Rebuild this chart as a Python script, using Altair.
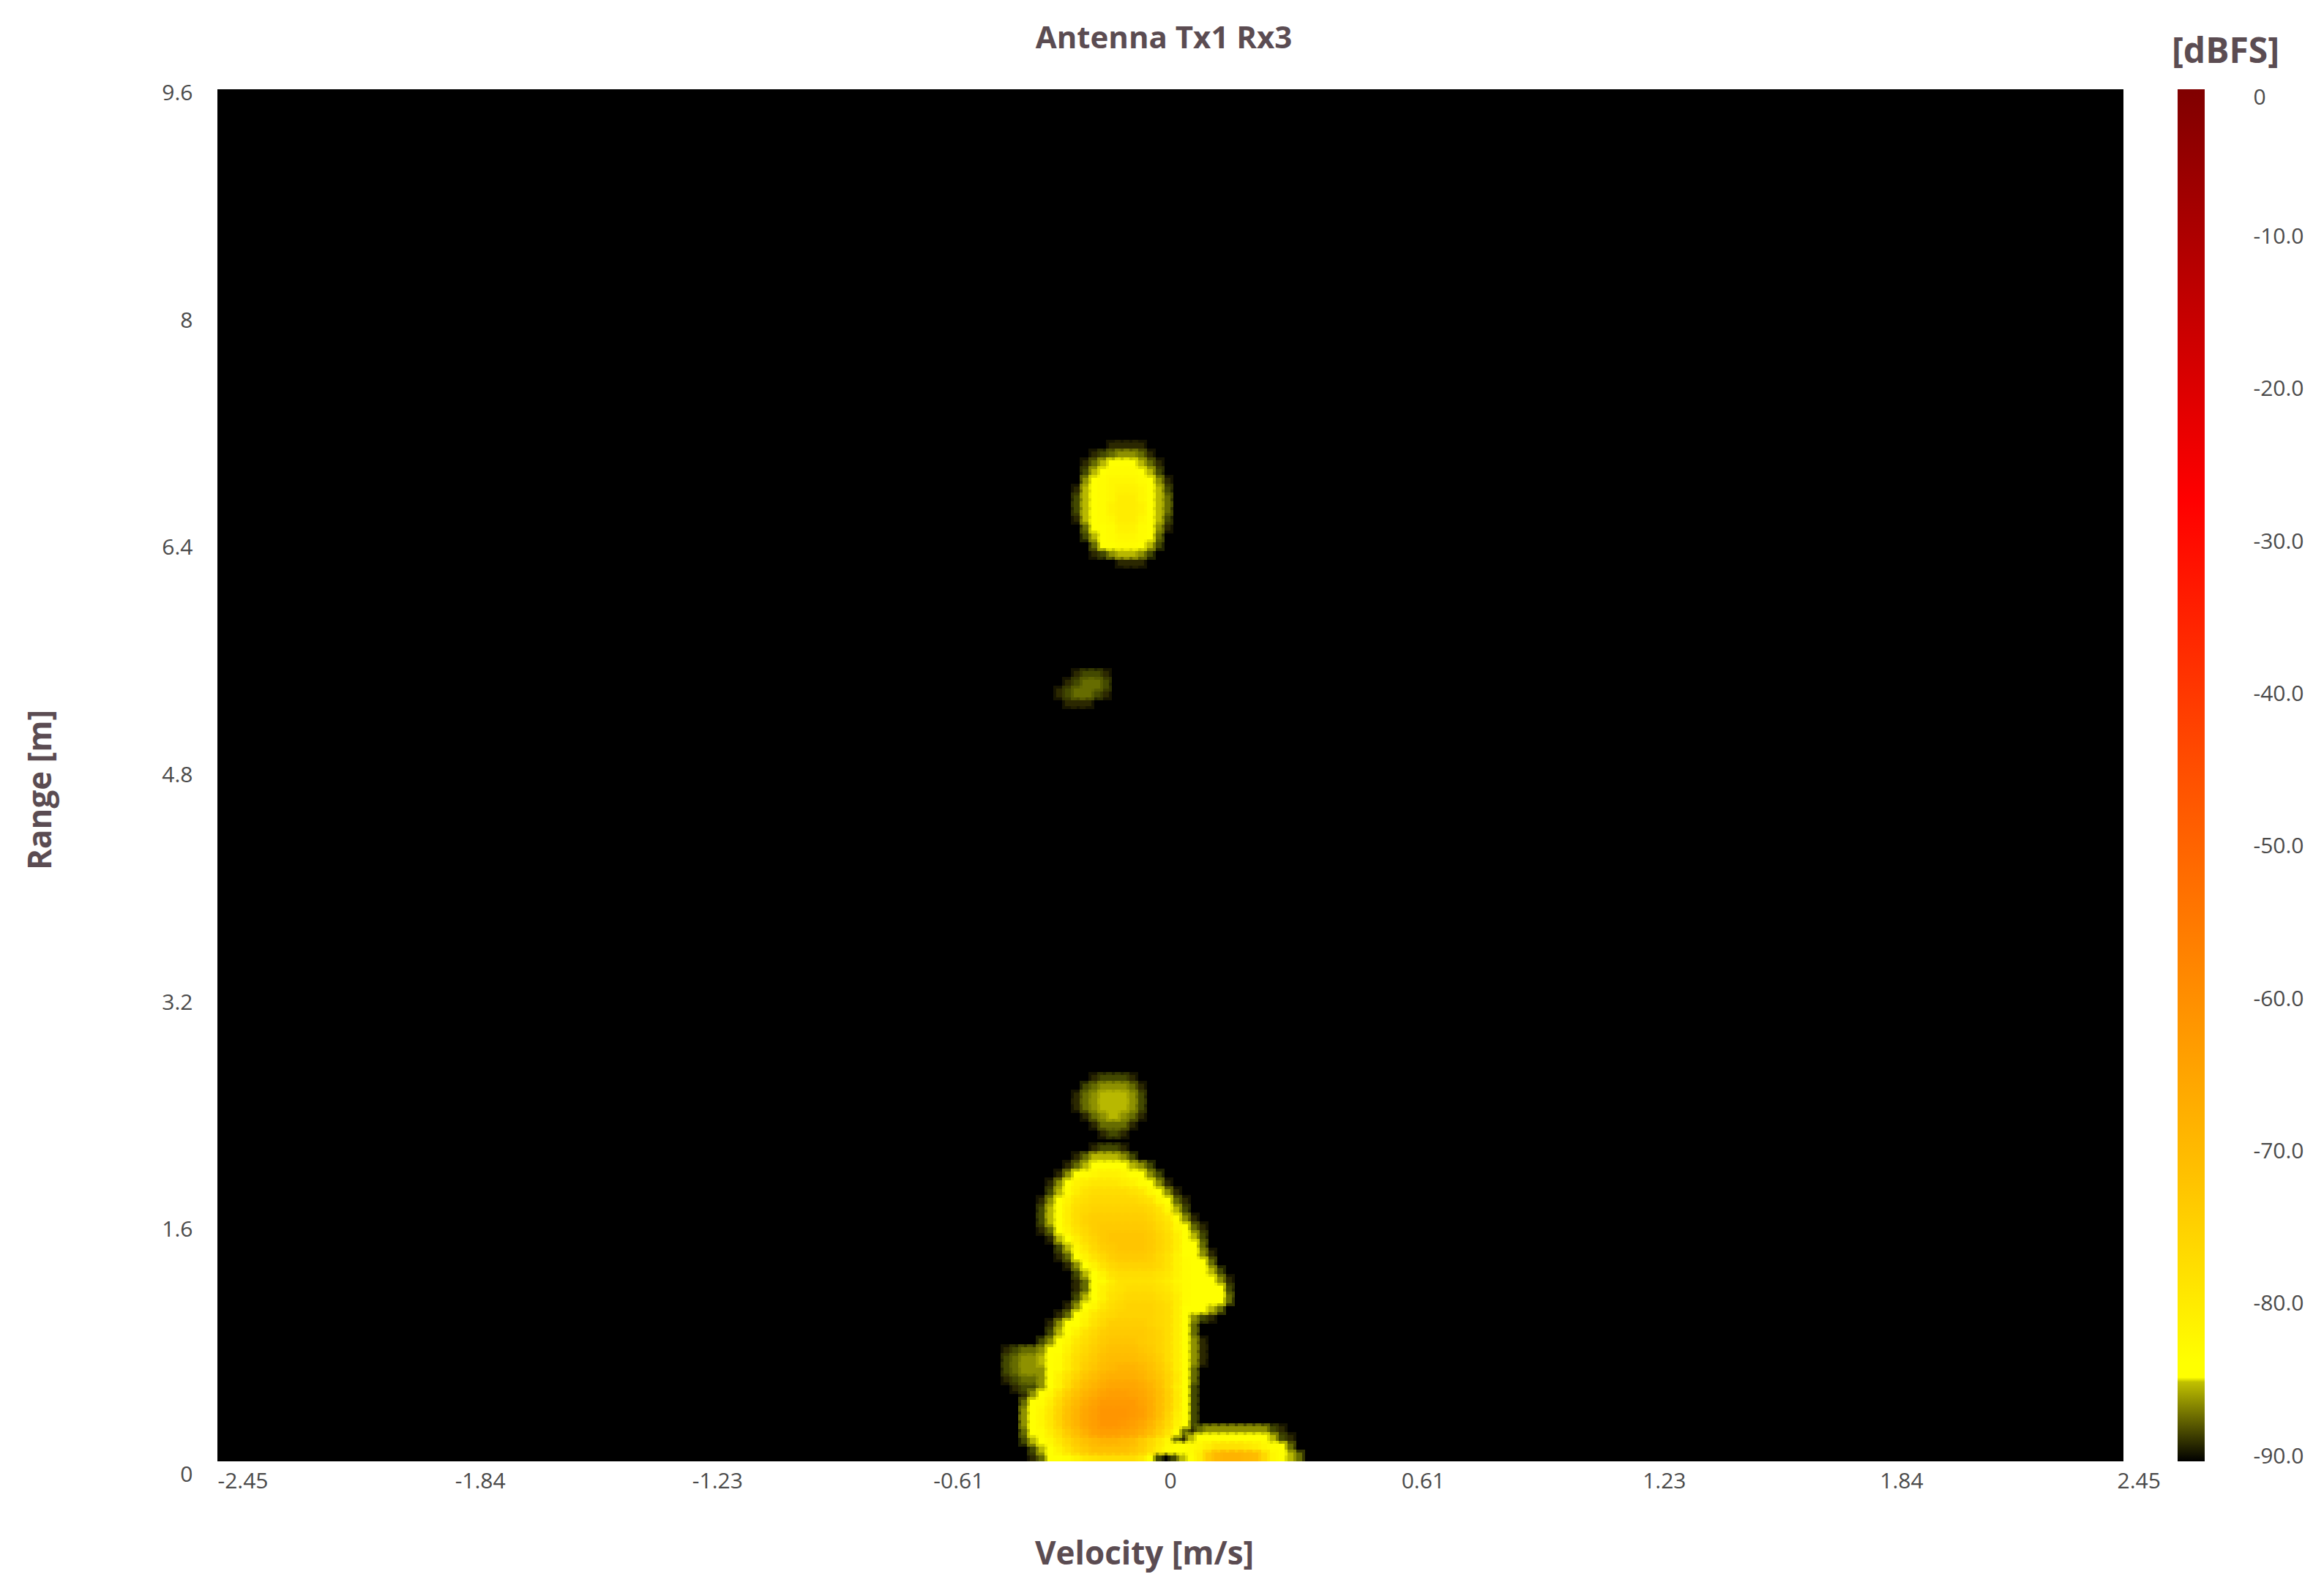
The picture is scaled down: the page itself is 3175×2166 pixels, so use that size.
import altair as alt
import pandas as pd

TITLE = "Antenna Tx1 Rx3"
X_TITLE = "Velocity [m/s]"
Y_TITLE = "Range [m]"
CB_TITLE = "[dBFS]"
X_TICKS = [-2.45, -1.84, -1.23, -0.61, 0, 0.61, 1.23, 1.84, 2.45]
Y_TICKS = [0, 1.6, 3.2, 4.8, 6.4, 8, 9.6]
CB_TICKS = [0, -10, -20, -30, -40, -50, -60, -70, -80, -90]

DB_STOPS = [-90, -84.8, -84.5, -83.5, -77, -71, -59, -45, -27, 0]
COLOR_STOPS = ["#000000", "#c0c000", "#ffff00", "#ffff00", "#ffdd00", "#ffc000",
               "#ff8c00", "#ff5000", "#ff0000", "#800000"]

# In dBFS: range cell -> (first velocity cell, values)
BOTTOM_BLOB = {
    0: (-16, [-89,-87,-84,-84,-83,-81,-79,-78,-77,-77,-77,-77,-79,-84,-88,-90,-88,-85,-84,-80,-73,-69,-68,-68,-69,-70,-76,-82,-84,-85,-87]),
    1: (-16, [-88,-85,-84,-81,-78,-75,-73,-71,-71,-71,-71,-72,-74,-77,-80,-83,-84,-84,-83,-82,-80,-78,-78,-78,-79,-80,-82,-84,-84,-87]),
    2: (-17, [-88,-85,-84,-82,-79,-76,-73,-71,-69,-68,-68,-69,-70,-73,-76,-79,-82,-87,-89,-85,-84,-84,-84,-84,-84,-84,-84,-84,-85,-88,-89]),
    3: (-17, [-87,-84,-83,-80,-77,-73,-70,-67,-64,-63,-63,-64,-65,-67,-70,-74,-78,-83,-87,-89,-87,-86,-86,-86,-86,-86,-86,-86,-88,-89]),
    4: (-17, [-86,-84,-82,-79,-75,-71,-68,-65,-63,-61,-61,-62,-63,-65,-68,-72,-76,-81,-84,-88]),
    5: (-17, [-86,-84,-82,-79,-75,-71,-68,-65,-63,-61,-61,-61,-62,-63,-66,-70,-75,-80,-84,-88]),
    6: (-17, [-87,-84,-83,-80,-76,-72,-69,-66,-64,-62,-62,-62,-62,-64,-66,-70,-74,-79,-84,-88]),
    7: (-17, [-89,-86,-84,-82,-78,-74,-71,-68,-66,-64,-63,-63,-64,-65,-67,-70,-74,-79,-84,-88]),
    8: (-18, [-89,-88,-88,-86,-84,-81,-77,-73,-70,-68,-66,-65,-65,-65,-66,-68,-71,-75,-80,-84,-88]),
    9: (-19, [-89,-88,-87,-87,-86,-84,-81,-78,-75,-72,-70,-68,-67,-67,-67,-68,-70,-72,-75,-79,-84,-87]),
    10: (-19, [-88,-87,-86,-86,-86,-84,-83,-80,-77,-74,-72,-70,-69,-68,-68,-69,-71,-73,-76,-80,-84,-87]),
    11: (-19, [-88,-87,-86,-86,-85,-84,-83,-80,-77,-75,-73,-71,-70,-70,-70,-71,-72,-74,-77,-80,-84,-86,-89]),
    12: (-19, [-89,-88,-87,-87,-86,-84,-84,-81,-78,-76,-74,-72,-71,-71,-71,-72,-73,-75,-77,-80,-84,-86,-89]),
    13: (-15, [-88,-86,-84,-82,-79,-77,-75,-73,-72,-72,-72,-73,-74,-75,-77,-80,-84,-86,-89]),
    14: (-14, [-88,-85,-84,-81,-78,-76,-74,-73,-73,-73,-73,-74,-75,-77,-80,-84,-87]),
    15: (-14, [-89,-86,-84,-84,-81,-78,-76,-74,-74,-74,-74,-75,-76,-77,-80,-84,-87]),
    16: (-13, [-89,-87,-84,-82,-79,-77,-76,-75,-75,-75,-75,-76,-77,-80,-84,-86,-88,-89]),
    17: (-12, [-89,-86,-84,-82,-79,-77,-76,-75,-75,-75,-76,-77,-80,-84,-84,-84,-85,-87]),
    18: (-11, [-88,-85,-84,-81,-78,-77,-76,-76,-76,-77,-78,-80,-83,-84,-84,-84,-84,-87]),
    19: (-11, [-89,-87,-84,-81,-79,-78,-77,-77,-77,-78,-79,-81,-83,-84,-84,-84,-84,-88]),
    20: (-11, [-89,-87,-84,-83,-80,-78,-78,-78,-78,-79,-80,-82,-83,-84,-84,-84,-86,-89]),
    21: (-11, [-88,-85,-84,-81,-78,-77,-77,-77,-77,-78,-79,-81,-83,-84,-84,-85,-88]),
    22: (-12, [-89,-86,-84,-81,-78,-76,-75,-75,-75,-75,-76,-78,-81,-83,-84,-84,-87]),
    23: (-13, [-89,-87,-84,-81,-78,-76,-74,-73,-73,-73,-74,-76,-78,-81,-84,-84,-86,-89]),
    24: (-13, [-88,-85,-82,-79,-76,-74,-73,-72,-72,-72,-73,-75,-77,-80,-84,-84,-87]),
    25: (-14, [-89,-85,-84,-80,-77,-75,-73,-72,-72,-72,-72,-73,-75,-77,-80,-84,-85,-88]),
    26: (-15, [-89,-87,-84,-81,-78,-76,-74,-73,-73,-73,-73,-73,-74,-76,-78,-82,-84,-87,-89]),
    27: (-15, [-88,-85,-84,-80,-77,-75,-74,-74,-74,-74,-74,-74,-75,-77,-79,-83,-86,-89]),
    28: (-15, [-88,-85,-84,-80,-77,-76,-75,-75,-75,-75,-75,-75,-76,-78,-82,-85,-88]),
    29: (-15, [-89,-86,-84,-81,-78,-77,-76,-76,-76,-76,-76,-77,-78,-82,-84,-87,-89]),
    30: (-14, [-88,-85,-83,-80,-78,-77,-77,-77,-77,-78,-79,-82,-84,-86,-89]),
    31: (-14, [-89,-86,-84,-81,-80,-79,-79,-79,-80,-81,-83,-84,-86,-89]),
    32: (-13, [-89,-86,-84,-83,-82,-81,-81,-82,-84,-84,-86,-88]),
    33: (-12, [-89,-87,-85,-84,-84,-84,-84,-85,-86,-88]),
    34: (-11, [-89,-87,-85,-85,-85,-86,-88]),
    35: (-9, [-89,-88,-88,-89]),
}
SMALL_BLOB = {
    37: (-8, [-89,-88,-89]),
    38: (-9, [-89,-87,-87,-87,-89]),
    39: (-10, [-89,-87,-86,-85,-86,-87,-89]),
    40: (-11, [-89,-87,-86,-85,-85,-85,-86,-88]),
    41: (-11, [-89,-87,-86,-85,-85,-85,-86,-88]),
    42: (-10, [-88,-87,-86,-86,-86,-87,-89]),
    43: (-9, [-89,-88,-88,-88,-89]),
}
FAINT_BLOB = {
    86: (-12, [-89,-89,-89]),
    87: (-13, [-89,-88,-87,-87,-88,-89]),
    88: (-12, [-89,-88,-87,-87,-88]),
    89: (-11, [-89,-88,-88,-89]),
}
TOP_BLOB = {
    102: (-6, [-89,-89,-89]),
    103: (-9, [-89,-88,-86,-85,-85,-86,-88]),
    104: (-9, [-87,-84,-84,-83,-83,-84,-85,-88]),
    105: (-10, [-88,-85,-84,-83,-82,-82,-83,-84,-87]),
    106: (-10, [-87,-84,-84,-83,-81,-81,-83,-84,-86,-89]),
    107: (-11, [-89,-85,-84,-83,-82,-80,-80,-82,-84,-85,-88]),
    108: (-11, [-88,-85,-84,-83,-81,-80,-80,-81,-84,-85,-87]),
    109: (-11, [-88,-85,-84,-83,-82,-80,-80,-82,-84,-85,-87]),
    110: (-11, [-89,-85,-84,-83,-82,-81,-81,-82,-84,-85,-88]),
    111: (-10, [-86,-84,-83,-82,-82,-82,-83,-84,-86,-89]),
    112: (-10, [-88,-85,-84,-83,-83,-83,-84,-85,-88]),
    113: (-10, [-89,-87,-85,-84,-84,-84,-85,-87,-89]),
    114: (-9, [-89,-88,-87,-86,-86,-87,-89]),
    115: (-7, [-89,-89,-89,-89]),
}

PLOT_W, PLOT_H = 2604, 1875
CELL_V = 4.9 * 12 / PLOT_W
CELL_R = 9.6 * 12 / PLOT_H
TEXT = "#5b4c52"
LABEL = "#4a4a4a"
FONT = "Open Sans"

records = []
for blob in (BOTTOM_BLOB, SMALL_BLOB, FAINT_BLOB, TOP_BLOB):
    for row, (first, values) in blob.items():
        for i, db in enumerate(values):
            if db > -90:
                col = first + i
                records.append({"v0": col * CELL_V, "v1": (col + 1) * CELL_V,
                                "r0": row * CELL_R, "r1": (row + 1) * CELL_R, "db": db})
cells = pd.DataFrame(records).sort_values("db", kind="stable")

color_scale = alt.Scale(domain=DB_STOPS, range=COLOR_STOPS, clamp=True)

heat = alt.Chart(cells, title=alt.TitleParams(
    TITLE, fontSize=42, font=FONT, fontWeight="bold", color=TEXT, dx=-9, offset=38, anchor="middle"
)).mark_rect(strokeWidth=8, strokeOpacity=0.5, clip=True).encode(
    x=alt.X("v0:Q", scale=alt.Scale(domain=[-2.45, 2.45], nice=False, zero=False),
            axis=alt.Axis(values=X_TICKS, labelExpr="datum.value + ''", title=X_TITLE, grid=False, domain=False,
                          ticks=False, labelAlign="left", labelFont=FONT, labelFontSize=30,
                          labelColor=LABEL, labelPadding=12, labelFlush=False, labelOverlap=False,
                          labelOffset={"expr": "datum.value >= 0 ? -9 : 0"},
                          titleFont=FONT, titleFontSize=44, titleFontWeight="bold", titleColor=TEXT,
                          titleX=1266, titleY=105)),
    x2="v1:Q",
    y=alt.Y("r0:Q", scale=alt.Scale(domain=[0, 9.6], nice=False, zero=False),
            axis=alt.Axis(values=Y_TICKS, labelExpr="datum.value + ''", title=Y_TITLE, grid=False, domain=False,
                          ticks=False, labelFont=FONT, labelFontSize=30, labelColor=LABEL,
                          labelPadding=34, labelFlush=False, labelOverlap=False,
                          labelOffset={"expr": "datum.value == 0 ? 18 : (datum.value - 4.8) * 1.2"},
                          titleFont=FONT, titleFontSize=44, titleFontWeight="bold", titleColor=TEXT,
                          titleX=-219, titleY=957)),
    y2="r1:Q",
    fill=alt.Fill("db:Q", scale=color_scale, legend=None),
    stroke=alt.Stroke("db:Q", scale=color_scale, legend=None),
).properties(width=PLOT_W, height=PLOT_H)

bar_df = pd.DataFrame({"low": [CB_TICKS[-1]], "high": [CB_TICKS[0]]})
gradient = alt.Gradient(
    gradient="linear", x1=0, x2=0, y1=1, y2=0,
    stops=[alt.GradientStop(color=c, offset=(d + 90) / 90) for d, c in zip(DB_STOPS, COLOR_STOPS)],
)
bar = alt.Chart(bar_df, title=alt.TitleParams(
    CB_TITLE, fontSize=48, font=FONT, fontWeight="bold", color=TEXT, dx=47, offset=22, anchor="middle"
)).mark_rect(fill=gradient).encode(
    x=alt.value(0), x2=alt.value(37),
    y=alt.Y("low:Q", scale=alt.Scale(domain=[-90, 0], nice=False, zero=False),
            axis=alt.Axis(orient="right", values=CB_TICKS, title=None, grid=False, domain=False,
                          ticks=False, labelAlign="left", labelFont=FONT, labelFontSize=30,
                          labelColor=LABEL, labelPadding=66, labelFlush=False, labelOverlap=False,
                          labelExpr="datum.value == 0 ? '\u00a0\u00a00' : replace(format(datum.value, '.1f'), '\u2212', '-')",
                          labelOffset={"expr": "datum.value == 0 ? 11 : -7"})),
    y2="high:Q",
).properties(width=37, height=PLOT_H)

chart = alt.hconcat(heat, bar, spacing=74, bounds="flush").properties(
    padding={"left": 26, "top": 23, "right": 4, "bottom": 40}
).configure_view(fill="#000000", stroke=None)

chart.save("out.html", embed_options={"renderer": "svg", "actions": False})
